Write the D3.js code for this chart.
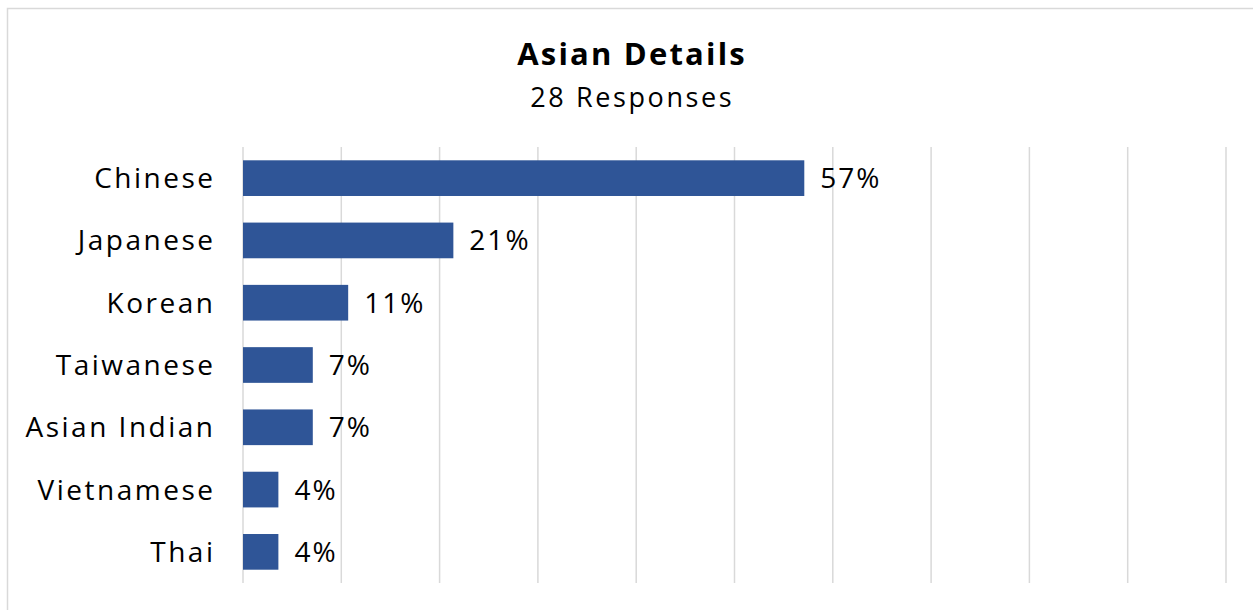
<!DOCTYPE html>
<html>
<head>
<meta charset="utf-8">
<script src="https://cdn.jsdelivr.net/npm/d3@7"></script>
<style>
  body { margin: 0; background: #fff; }
  svg text { font-family: "Century Gothic", "Open Sans", sans-serif; fill: #000; }
  .Grid line { stroke: #d9d9d9; stroke-width: 1.5; }
  .Bar { fill: #2f5597; }
</style>
</head>
<body>
<div id="ChartContainer"></div>
<script>
// Data
var categories = ["Chinese", "Japanese", "Korean", "Taiwanese", "Asian Indian", "Vietnamese", "Thai"]
var shares = [57.1, 21.4, 10.7, 7.1, 7.1, 3.6, 3.6]   // percent of responses
var gridTicks = [0, 10, 20, 30, 40, 50, 60, 70, 80, 90, 100]
var titleText = "Asian Details"
var subtitleText = "28 Responses"

var fullWidth = 1253
var fullHeight = 610
var margin = { top: 147, right: 27, bottom: 27, left: 243 }

var svg = d3.select("#ChartContainer").append("svg")
  .attr("width", fullWidth)
  .attr("height", fullHeight)

// chart area border (only top/left visible in frame)
svg.append("rect")
  .attr("x", 7.5)
  .attr("y", 8.5)
  .attr("width", fullWidth + 20)
  .attr("height", fullHeight + 20)
  .attr("fill", "#fff")
  .attr("stroke", "#d9d9d9")
  .attr("stroke-width", 1.5)

// Chart title (letter-spacing to mimic the wide Century Gothic)
svg.append("text")
  .attr("x", 631 + 1.1)
  .attr("y", 65)
  .attr("text-anchor", "middle")
  .style("font-size", "31px")
  .style("font-weight", "bold")
  .style("letter-spacing", "2.2px")
  .text(titleText)

svg.append("text")
  .attr("x", 631 + 1.3)
  .attr("y", 107)
  .attr("text-anchor", "middle")
  .style("font-size", "27px")
  .style("letter-spacing", "2.6px")
  .text(subtitleText)

var x = d3.scaleLinear()
  .domain([0, 100])
  .range([0, 983])

var y = d3.scaleBand()
  .domain(categories)
  .range([0, 436])
  .paddingInner(0.427)
  .paddingOuter(0.2135)

var g = svg.append("g")
  .attr("transform", `translate(${margin.left},${margin.top})`)

// vertical gridlines
g.append("g")
  .attr("class", "Grid")
  .selectAll("line")
  .data(gridTicks)
  .enter().append("line")
  .attr("x1", d => x(d))
  .attr("x2", d => x(d))
  .attr("y1", 0)
  .attr("y2", 436)

var rows = categories.map((c, i) => ({ name: c, value: shares[i] }))

g.selectAll(".Bar")
  .data(rows)
  .enter().append("rect")
  .attr("class", "Bar")
  .attr("x", x(0))
  .attr("y", d => y(d.name))
  .attr("width", d => x(d.value) - x(0))
  .attr("height", y.bandwidth())

// value labels
g.selectAll(".ValueLabel")
  .data(rows)
  .enter().append("text")
  .attr("class", "ValueLabel")
  .attr("x", d => x(d.value) + 16)
  .attr("y", d => y(d.name) + y.bandwidth() / 2 + 10)
  .style("font-size", "28px")
  .style("letter-spacing", "2px")
  .text(d => Math.round(d.value) + "%")

// category labels
g.selectAll(".CatLabel")
  .data(rows)
  .enter().append("text")
  .attr("class", "CatLabel")
  .attr("x", -30 + 2.5)
  .attr("y", d => y(d.name) + y.bandwidth() / 2 + 10)
  .attr("text-anchor", "end")
  .style("font-size", "28px")
  .style("letter-spacing", "2.5px")
  .text(d => d.name)
</script>
</body>
</html>
